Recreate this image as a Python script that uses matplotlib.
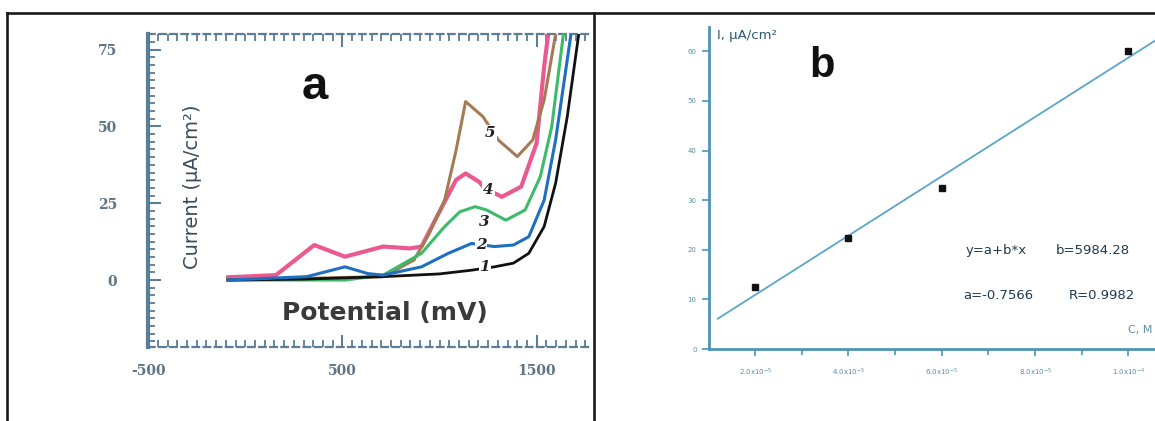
import matplotlib
matplotlib.use("Agg")
import matplotlib.pyplot as plt
import numpy as np
from matplotlib.lines import Line2D
from matplotlib.ticker import MultipleLocator, FixedLocator

plt.rcParams["axes.unicode_minus"] = False

# panel a: curves 1-5 (potential in mV, current in uA/cm2)
pot_1 = [-89, 300, 710, 1000, 1164, 1282, 1380, 1459, 1538, 1597, 1657, 1716]
cur_1 = [0, 0.3, 1.1, 2.0, 3.2, 4.3, 5.5, 8.7, 17.4, 31.5, 53.2, 80]
pot_2 = [-89, 316, 513, 631, 710, 907, 1045, 1164, 1282, 1380, 1459, 1538, 1597, 1676]
cur_2 = [0, 1.1, 4.3, 2.1, 1.6, 4.3, 8.7, 11.9, 10.9, 11.4, 14.1, 26, 45.6, 80]
pot_3 = [-89, 513, 710, 907, 1026, 1104, 1183, 1242, 1341, 1440, 1518, 1577, 1637]
cur_3 = [0, 0, 1.6, 8.7, 17.4, 22.2, 23.9, 22.8, 19.5, 22.8, 33.6, 49.9, 80]
pot_4 = [-89, 158, 355, 513, 710, 848, 907, 986, 1085, 1134, 1203, 1233, 1321, 1420, 1499, 1538, 1568]
cur_4 = [0.9, 1.6, 11.4, 7.6, 10.9, 10.3, 10.9, 20.6, 32.6, 34.7, 32, 29.8, 27.1, 30.4, 44.5, 69.5, 84.7]
pot_5 = [-89, 710, 868, 947, 1026, 1085, 1134, 1223, 1302, 1400, 1479, 1538, 1597]
cur_5 = [0, 1.1, 6.5, 15.2, 26, 42.3, 58.1, 53.2, 45.6, 40.2, 45.6, 58.6, 80]
curve_labels = ["1", "2", "3", "4", "5"]
label_pos = [(1232, 4.3), (1213, 11.4), (1232, 19), (1252, 29.3), (1262, 47.8)]
a_yticks = [0, 25, 50, 75]
a_xticks = [-500, 500, 1500]

# panel b: calibration points
conc = [2.0e-5, 4.0e-5, 6.0e-5, 1.0e-4]
current_b = [12.4, 22.4, 32.5, 60.0]
b_xticks = [2.0e-5, 4.0e-5, 6.0e-5, 8.0e-5, 1.0e-4]
b_xticklabels = [r"2.0x10$^{-5}$", r"4.0x10$^{-5}$", r"6.0x10$^{-5}$",
                 r"8.0x10$^{-5}$", r"1.0x10$^{-4}$"]
b_yticks = [0, 10, 20, 30, 40, 50, 60]

W, H = 1155, 421
fig = plt.figure(figsize=(W / 100, H / 100), dpi=100)

def box(l, t, r, b):
    return [l / W, 1 - b / H, (r - l) / W, (b - t) / H]

# table borders
bc = "#1a1a1a"
fig.add_artist(Line2D([7 / W, 1], [1 - 13 / H] * 2, color=bc, lw=1.9))
fig.add_artist(Line2D([7 / W] * 2, [0, 1 - 13 / H], color=bc, lw=1.9))
fig.add_artist(Line2D([594 / W] * 2, [0, 1 - 13 / H], color=bc, lw=1.9))

# ---------------- panel a ----------------
fc = "#5b7d96"
ax = fig.add_axes(box(147.5, 34, 590, 347))
ax.set_xlim(-503, 1774)
ax.set_ylim(-21.8, 80.1)

ax.plot(pot_4, cur_4, color="#ea5a90", lw=3.0, zorder=2)
ax.plot(pot_5, cur_5, color="#a57b55", lw=2.2, zorder=3)
ax.plot(pot_3, cur_3, color="#3dba6a", lw=2.2, zorder=3)
ax.plot(pot_1, cur_1, color="#111111", lw=2.0, zorder=4)
ax.plot(pot_2, cur_2, color="#1e6fc0", lw=2.2, zorder=4)

for lab, (x, y) in zip(curve_labels, label_pos):
    ax.text(x, y, lab, fontsize=11, family="DejaVu Serif", style="italic",
            weight="bold", color="#222222", ha="center", va="center", zorder=6,
            bbox=dict(facecolor="white", edgecolor="none", pad=0.5))

ax.text(360, 63, "a", fontsize=34, weight="bold", family="Liberation Sans",
        color="#111111", ha="center", va="center")
ax.text(-269, 30.3, "Current (µA/cm²)", rotation=90, fontsize=14,
        color="#3a4a5a", ha="center", va="center")
ax.text(719, -10.7, "Potential (mV)", fontsize=18, weight="bold",
        color="#3a3a3a", ha="center", va="center")

ax.spines["right"].set_visible(False)
ax.spines["left"].set_linewidth(3)
ax.spines["left"].set_color(fc)
for s in ("top", "bottom"):
    ax.spines[s].set_color(fc)
    ax.spines[s].set_linewidth(1.6)
    ax.spines[s].set_linestyle((0, (3, 2)))
ax.set_xticks(a_xticks)
ax.set_yticks(a_yticks)
ax.xaxis.set_minor_locator(MultipleLocator(50))
ax.yaxis.set_minor_locator(MultipleLocator(2.5))
ax.tick_params(axis="both", which="major", direction="in", length=9, width=1.5,
               color=fc, labelcolor="#5f7585", labelsize=10, top=True)
ax.tick_params(axis="both", which="minor", direction="in", length=5, width=1.3,
               color=fc, top=True)
ax.tick_params(axis="y", pad=22)
ax.tick_params(axis="x", pad=12)
for t in ax.get_xticklabels() + ax.get_yticklabels():
    t.set_family("DejaVu Serif")
    t.set_weight("bold")

# ---------------- panel b ----------------
bcol = "#4f93b5"
bx = fig.add_axes(box(708.5, 27, 1155, 349))
bx.set_xlim(1.0e-5, 10.57e-5)
bx.set_ylim(0, 64.9)

coef = np.polyfit(conc, current_b, 1)
xf = np.array([1.2e-5, 10.8e-5])
bx.plot(xf, np.polyval(coef, xf), color="#5aa5cc", lw=1.3, zorder=2)
bx.plot(conc, current_b, "s", color="#111111", ms=4, zorder=3)

bx.text(0.255, 0.88, "b", transform=bx.transAxes, fontsize=30, weight="bold",
        family="Liberation Sans", color="#111111", ha="center", va="center")
bx.text(0.02, 0.975, "I, µA/cm²", transform=bx.transAxes, fontsize=9.5,
        color="#2f5a72", ha="left", va="center")
bx.text(0.94, 0.06, "C, M", transform=bx.transAxes, fontsize=8,
        color="#5b8fa8", ha="left", va="center", clip_on=False)

tc = "#1d3a50"
bx.text(0.645, 0.305, "y=a+b*x", transform=bx.transAxes, fontsize=9.5, color=tc,
        ha="center", va="center")
bx.text(0.86, 0.305, "b=5984.28", transform=bx.transAxes, fontsize=9.5, color=tc,
        ha="center", va="center")
bx.text(0.648, 0.165, "a=-0.7566", transform=bx.transAxes, fontsize=9.5, color=tc,
        ha="center", va="center")
bx.text(0.88, 0.165, "R=0.9982", transform=bx.transAxes, fontsize=9.5, color=tc,
        ha="center", va="center")

bx.spines["right"].set_visible(False)
bx.spines["top"].set_visible(False)
for s in ("left", "bottom"):
    bx.spines[s].set_color(bcol)
    bx.spines[s].set_linewidth(2)
bx.set_xticks(b_xticks)
bx.set_xticklabels(b_xticklabels)
bx.xaxis.set_minor_locator(FixedLocator([3e-5, 5e-5, 7e-5, 9e-5]))
bx.set_yticks(b_yticks)
bx.tick_params(axis="both", which="major", direction="out", length=5, width=1.2,
               color=bcol, labelcolor="#5b8fa8", labelsize=5)
bx.tick_params(axis="x", which="minor", direction="out", length=4, width=1.2,
               color=bcol)
bx.tick_params(axis="x", pad=8)

fig.savefig("out.png", dpi=100)
